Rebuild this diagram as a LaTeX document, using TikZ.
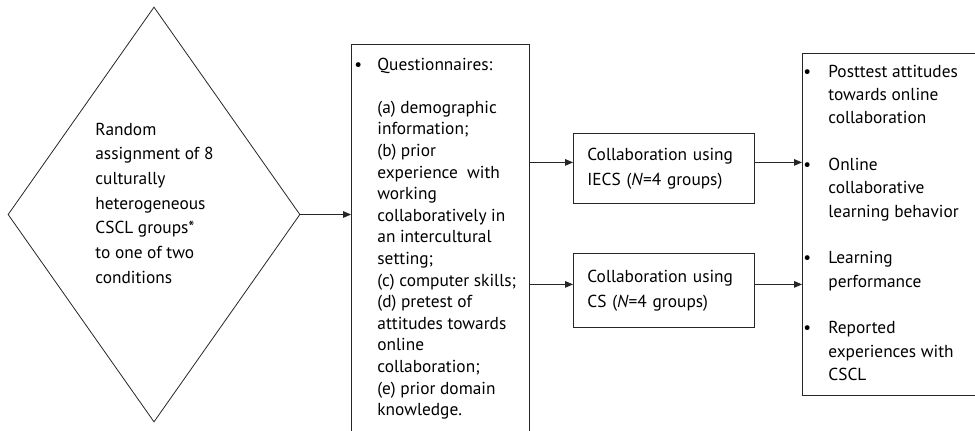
\documentclass[tikz,border=0pt]{standalone}
\usepackage{fontspec}
\setmainfont{PT Sans}
\usetikzlibrary{shapes.geometric,arrows.meta,positioning}

\tikzset{
  box/.style={draw=black!85, rectangle, inner sep=0pt},
  boxtxt/.style={draw=black!85, rectangle, align=left, inner xsep=10.5pt, inner ysep=0pt,
    text width=114.75pt, font=\fontsize{13}{18.75}\selectfont},
  txt/.style={inner sep=0pt, anchor=base west},
  arr/.style={draw=black!85, -{Triangle[length=6pt,width=5pt]}},
}

\begin{document}
\begin{tikzpicture}[x=0.75pt,y=-0.75pt, line width=0.6pt]
\useasboundingbox (0,0) rectangle (975,430);

% assignment
\node[diamond, draw=black!85, inner sep=0pt, minimum width=219pt, minimum height=311.25pt] (assign) at (154,214.5) {};
\node[txt, font=\fontsize{13}{18.5}\selectfont] (assigntxt) at (95,135)
  {\begin{tabular}[t]{@{}l@{}}
   Random\\assignment of 8\\culturally\\heterogeneous\\CSCL groups*\\to one of two\\conditions
   \end{tabular}};

% questionnaires
\node[box, anchor=north west, minimum width=133.5pt, minimum height=300pt] (quest) at (351,44) {};
\node[txt, font=\fontsize{13}{16.2}\selectfont] (questtxt) at (354,70)
  {\begin{tabular}[t]{@{}p{17.25pt}@{}l@{}}
   \textbullet & Questionnaires:\\
   & \\
   & (a) demographic\\
   & information;\\
   & (b) prior\\
   & experience\ \ with\\
   & working\\
   & collaboratively in\\
   & an intercultural\\
   & setting;\\
   & (c) computer skills;\\
   & (d) pretest of\\
   & attitudes towards\\
   & online\\
   & collaboration;\\
   & (e) prior domain\\
   & knowledge.
   \end{tabular}};

% conditions
\node[boxtxt, anchor=north west, minimum height=52.5pt] (iecs) at (573,133)
  {Collaboration using\\IECS (\textit{N}=4 groups)};
\node[boxtxt, anchor=north west, minimum height=55.5pt] (cs) at (573,253)
  {Collaboration using\\CS (\textit{N}=4 groups)};

% outcomes
\node[box, anchor=north west, minimum width=142.5pt, minimum height=256.5pt] (outcome) at (802,53) {};
\node[txt, font=\fontsize{13}{17.5}\selectfont] (outcometxt) at (803,77)
  {\begin{tabular}[t]{@{}p{18.75pt}@{}l@{}}
   \textbullet & Posttest attitudes\\
   & towards online\\
   & collaboration\\
   & \\
   \textbullet & Online\\
   & collaborative\\
   & learning behavior\\
   & \\
   \textbullet & Learning\\
   & performance\\
   & \\
   \textbullet & Reported\\
   & experiences with\\
   & CSCL
   \end{tabular}};

\draw[arr] (assign.east) -- (assign.east -| quest.west);
\draw[arr] ([yshift=4.5pt]iecs.west -| quest.east) -- ([yshift=4.5pt]iecs.west);
\draw[arr] ([yshift=4.5pt]cs.west -| quest.east) -- ([yshift=4.5pt]cs.west);
\draw[arr] ([yshift=4.5pt]iecs.east) -- ([yshift=4.5pt]iecs.east -| outcome.west);
\draw[arr] ([yshift=4.5pt]cs.east) -- ([yshift=4.5pt]cs.east -| outcome.west);

\end{tikzpicture}
\end{document}
